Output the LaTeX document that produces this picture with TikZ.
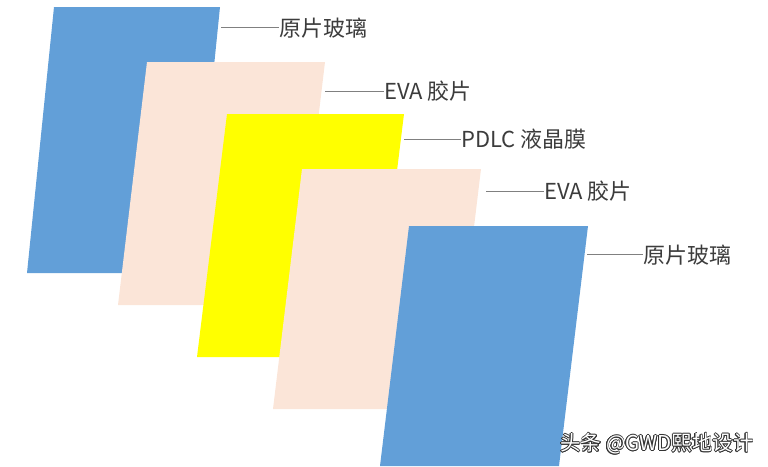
\documentclass[tikz,border=0pt]{standalone}
\usepackage{fontspec}
\setmainfont{Noto Sans CJK SC}
\usepackage{contour}
\contourlength{0.6pt}
\usepackage{xcolor}
\definecolor{glassblue}{HTML}{629FD8}
\definecolor{evapeach}{HTML}{FBE5D8}
\definecolor{pdlcyellow}{HTML}{FFFF00}
\definecolor{leadgray}{HTML}{808080}
\definecolor{tagtext}{HTML}{3C3C3C}

\begin{document}
\begin{tikzpicture}[x=1pt,y=-1pt]
    \tikzset{Glass/.style={fill=glassblue}};
    \tikzset{Eva/.style={fill=evapeach}};
    \tikzset{Pdlc/.style={fill=pdlcyellow}};
    \tikzset{Tag/.style={anchor=west, inner sep=0pt, text=tagtext, font=\fontsize{22}{22}\selectfont}};
    \tikzset{Lead/.style={draw=leadgray, line width=0.9pt}};
    \tikzset{Mark/.style={inner sep=0pt, text=white, font=\fontsize{20.5}{20.5}\selectfont}};

    \useasboundingbox (0,0) rectangle (768,466);

    % sheets, back to front
    \fill[Glass] (54,7) -- (220,7) -- (193,273) -- (27,273) -- cycle;
    \fill[Eva] (147,62) -- (325,62) -- (296,305) -- (118,305) -- cycle;
    \fill[Pdlc] (227,114) -- (404,114) -- (374,357) -- (197,357) -- cycle;
    \fill[Eva] (302,169) -- (481,169) -- (452,409) -- (273,409) -- cycle;
    \fill[Glass] (409,226) -- (588,226) -- (559,466) -- (380,466) -- cycle;

    \coordinate (g1) at (221,27);
    \coordinate (e1) at (325,91);
    \coordinate (p) at (404,139);
    \coordinate (e2) at (486,191);
    \coordinate (g2) at (587,254);

    \node[Tag] (tg1) at (279,28) {原片玻璃};
    \node[Tag] (te1) at (384,91) {EVA 胶片};
    \node[Tag] (tp) at (461,139) {PDLC 液晶膜};
    \node[Tag] (te2) at (544,191) {EVA 胶片};
    \node[Tag] (tg2) at (643,255) {原片玻璃};

    \draw[Lead] (g1) -- (g1 -| tg1.west);
    \draw[Lead] (e1) -- (e1 -| te1.west);
    \draw[Lead] (p) -- (p -| tp.west);
    \draw[Lead] (e2) -- (e2 -| te2.west);
    \draw[Lead] (g2) -- (g2 -| tg2.west);

    \node[Mark] (w) at (657,444) {\contour{black!80}{头条 @GWD熙地设计}};
\end{tikzpicture}
\end{document}
